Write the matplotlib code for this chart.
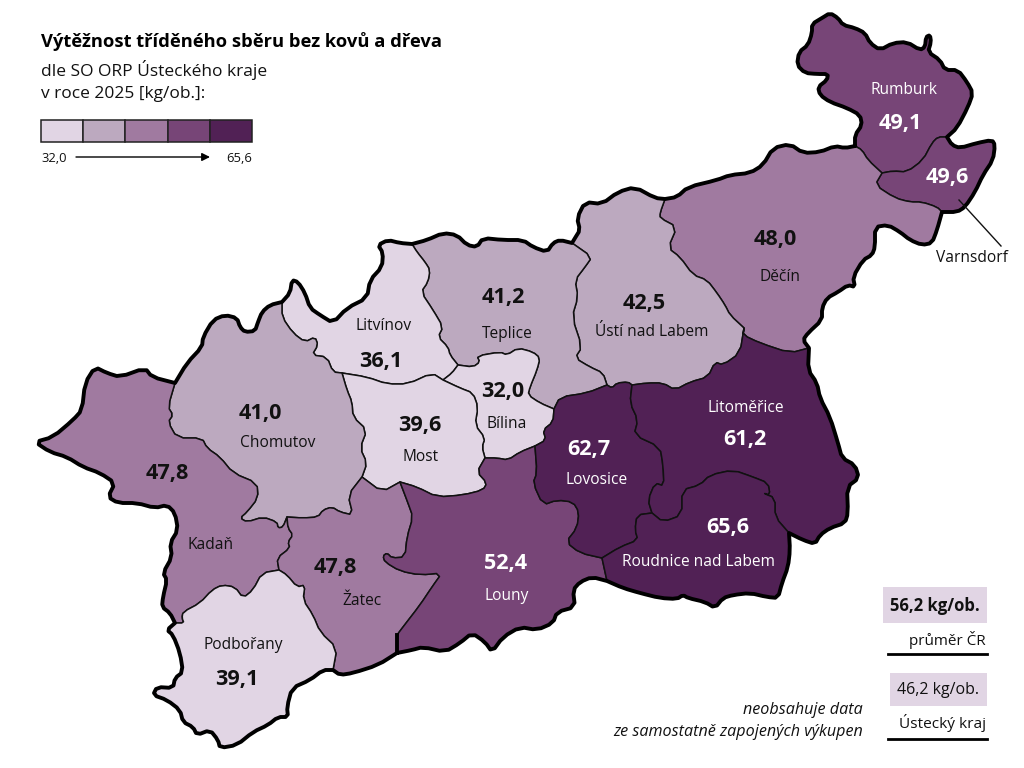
#!/usr/bin/env python
"""Vytreznost triddeneho sberu - map of the SO ORP regions, Ustecky kraj"""
import numpy as np
import matplotlib
matplotlib.use('Agg')
import matplotlib.pyplot as plt
from matplotlib.patches import Rectangle

plt.rcParams['font.family'] = ['Open Sans', 'DejaVu Sans']

# region values
names = ['Rumburk', 'Varnsdorf', 'Děčín', 'Ústí nad Labem', 'Teplice', 'Litvínov', 'Bílina', 'Most',
         'Chomutov', 'Kadaň', 'Žatec', 'Podbořany', 'Louny', 'Lovosice', 'Litoměřice', 'Roudnice nad Labem']
values = [49.1, 49.6, 48.0, 42.5, 41.2, 36.1, 32.0, 39.6, 41.0, 47.8, 47.8, 39.1, 52.4, 62.7, 61.2, 65.6]
class_breaks = [40, 45, 49, 55]
class_colors = ['#e1d5e4', '#bca9bf', '#a07aa0', '#774577', '#512155']
scale_min = 32.0
scale_max = 65.6
mean_cr = 56.2
mean_kraj = 46.2

# borders in pixels
# outer border pieces
out_rum = [(855, 146), (855, 135), (862, 125), (860, 115), (847, 108), (830, 102), (820, 95), (818, 87), (827, 80),
           (828, 74), (817, 74), (805, 73), (797, 65), (799, 52), (808, 45), (812, 33), (812, 24), (822, 18), (830, 13),
           (838, 18), (843, 25), (855, 28), (865, 33), (870, 43), (880, 50), (893, 43), (907, 42), (920, 50), (925, 47),
           (926, 37), (930, 35), (931, 42), (928, 52), (940, 60), (945, 70), (958, 70), (967, 82), (973, 93), (968, 107),
           (957, 128), (947, 137)]
out_var = [(947, 137), (952, 145), (960, 148), (977, 143), (992, 140), (995, 145), (993, 160), (983, 175), (975, 192),
           (965, 207), (957, 212), (942, 212)]
out_dec_s = [(942, 212), (937, 230), (932, 243), (922, 245), (910, 240), (900, 232), (888, 225), (875, 227), (875, 247),
             (872, 255), (863, 260), (853, 277), (855, 287), (848, 285), (838, 292), (827, 298), (822, 308), (822, 320),
             (808, 333), (803, 340), (809, 348)]
out_ltm = [(809, 348), (808, 370), (817, 383), (820, 398), (830, 417), (838, 443), (842, 458), (855, 465), (859, 478),
           (847, 487), (848, 513), (845, 523), (830, 528), (820, 535), (815, 544), (803, 540), (789, 533)]
out_rou = [(789, 533), (790, 550), (788, 567), (782, 583), (778, 598), (767, 597), (750, 593), (733, 595), (723, 598),
           (715, 608), (705, 602), (688, 598), (683, 595), (677, 599), (660, 598), (640, 593), (623, 588), (607, 581)]
out_lou = [(607, 581), (592, 577), (580, 582), (573, 590), (575, 607), (557, 612), (553, 623), (537, 630), (520, 627),
           (503, 637), (492, 652), (485, 642), (472, 633), (460, 643), (445, 652), (423, 647), (412, 650), (397, 653)]
out_zat = [(397, 653), (378, 665), (353, 673), (340, 675), (333, 670)]
out_pod = [(333, 670), (323, 670), (310, 680), (292, 688), (287, 707), (288, 717), (278, 717), (268, 725), (253, 732),
           (237, 745), (220, 748), (218, 740), (210, 730), (197, 735), (193, 727), (183, 722), (180, 710), (167, 700),
           (153, 695), (157, 687), (173, 688), (175, 678), (183, 672), (180, 653), (173, 635), (167, 630), (175, 623)]
out_kad = [(175, 623), (170, 613), (162, 607), (163, 597), (167, 580), (163, 573), (172, 557), (170, 543), (178, 530),
           (175, 513), (167, 505), (155, 508), (137, 503), (118, 503), (108, 497), (115, 483), (100, 473), (83, 467),
           (67, 457), (50, 452), (35, 442), (53, 437), (73, 420), (82, 410), (85, 383), (95, 367), (107, 373), (120, 377),
           (145, 368), (152, 377), (175, 383)]
out_cho = [(175, 383), (187, 363), (202, 347), (203, 337), (213, 320), (225, 315), (237, 318), (240, 327), (245, 332),
           (255, 331), (258, 322), (262, 312), (270, 305), (282, 302)]
out_ltv = [(282, 302), (290, 293), (292, 280), (298, 282), (305, 293), (310, 308), (320, 315), (333, 323), (347, 308),
           (367, 298), (370, 280), (382, 267), (383, 253), (378, 245), (388, 240), (400, 243), (412, 244)]
out_tep = [(412, 244), (427, 240), (443, 233), (457, 235), (467, 245), (477, 247), (483, 238), (503, 240), (523, 240),
           (533, 247), (547, 252), (553, 243), (560, 240), (572, 243)]
out_ust = [(572, 243), (575, 238), (580, 230), (577, 218), (585, 202), (602, 204), (618, 192), (635, 187), (655, 198),
           (665, 199)]
out_dec_n = [(665, 199), (677, 197), (688, 187), (717, 180), (730, 175), (750, 173), (763, 165), (773, 148), (790, 144),
             (803, 153), (820, 152), (835, 146), (845, 148), (855, 146)]

# inner border pieces
rum_dec = [(855, 146), (862, 150), (868, 160), (882, 173)]
rum_var = [(882, 173), (893, 171), (907, 172), (923, 160), (932, 143), (938, 137), (947, 137)]
var_dec = [(882, 173), (875, 185), (895, 198), (910, 202), (922, 202), (937, 207), (942, 212)]
ust_dec = [(665, 199), (660, 213), (660, 218), (677, 227), (668, 248), (680, 257), (693, 275), (707, 280), (717, 293),
           (725, 305), (730, 315), (744, 328)]
dec_ltm = [(744, 328), (743, 335), (760, 343), (790, 353), (809, 348)]
ust_ltm = [(744, 328), (740, 353), (723, 365), (715, 362), (708, 377), (690, 382), (675, 390), (663, 383), (647, 383),
           (632, 385)]
ust_lov = [(632, 385), (628, 382), (617, 383), (612, 388), (607, 385)]
tep_lov = [(607, 385), (587, 393), (560, 397), (554, 409)]
ust_tep = [(572, 243), (592, 257), (585, 267), (575, 280), (578, 297), (572, 317), (582, 347), (575, 358), (590, 367),
           (603, 373), (607, 385)]
tep_ltv = [(412, 244), (417, 252), (425, 262), (430, 270), (428, 282), (421, 292), (433, 310), (443, 327), (438, 337),
           (448, 347), (450, 355), (458, 365)]
ltv_bil = [(458, 365), (452, 373), (443, 380)]
tep_bil = [(458, 365), (473, 367), (480, 362), (477, 356), (500, 352), (507, 355), (518, 348), (533, 352), (540, 358),
           (537, 370), (530, 387), (528, 395), (540, 403), (554, 409)]
bil_lov = [(554, 409), (553, 422), (543, 430), (546, 440), (535, 446)]
bil_lou = [(535, 446), (520, 452), (508, 460), (497, 458), (485, 458)]
bil_mos = [(443, 380), (460, 388), (473, 393), (478, 407), (475, 425), (485, 438), (482, 447), (485, 458)]
ltv_mos = [(342, 373), (367, 377), (387, 384), (408, 384), (432, 373), (443, 380)]
cho_ltv = [(282, 302), (282, 317), (293, 333), (305, 342), (315, 337), (318, 345), (312, 355), (327, 357), (333, 372),
           (342, 373)]
cho_mos = [(342, 373), (347, 390), (352, 402), (353, 417), (367, 430), (360, 448), (367, 463), (362, 477)]
mos_zat = [(362, 477), (382, 492), (400, 482)]
mos_lou = [(400, 482), (417, 487), (437, 497), (463, 495), (483, 490), (487, 483), (477, 472), (485, 458)]
zat_lou = [(400, 482), (408, 503), (413, 517), (407, 537), (405, 557), (392, 558), (387, 553), (383, 556), (385, 562),
           (400, 571), (420, 575), (442, 573), (432, 587), (420, 605), (403, 627), (397, 635), (397, 653)]
cho_kad = [(175, 383), (168, 407), (173, 415), (168, 422), (177, 438), (202, 438), (207, 448), (220, 457), (233, 473),
           (257, 483), (258, 498), (247, 512), (240, 518), (247, 522), (263, 517), (277, 522), (278, 528), (283, 527),
           (287, 517)]
cho_zat = [(287, 517), (303, 518), (318, 517), (323, 510), (332, 507), (340, 512), (353, 515), (348, 495), (362, 477)]
kad_zat = [(287, 517), (288, 528), (293, 535), (288, 542), (290, 548), (277, 558), (279, 570)]
kad_pod = [(279, 570), (262, 573), (253, 590), (243, 598), (235, 587), (222, 585), (212, 590), (200, 603), (183, 612),
           (182, 618), (184, 623), (175, 623)]
zat_pod = [(279, 570), (287, 575), (297, 587), (305, 585), (303, 600), (313, 615), (320, 632), (337, 648), (333, 670)]
lov_ltm = [(632, 385), (630, 403), (638, 420), (634, 435), (660, 447), (663, 465), (664, 486), (655, 483), (648, 500),
           (652, 513)]
ltm_rou = [(652, 513), (663, 522), (682, 515), (682, 490), (700, 485), (710, 475), (733, 470), (753, 477), (768, 483),
           (770, 495), (763, 493), (775, 498), (775, 517), (789, 533)]
lov_rou = [(652, 513), (637, 515), (635, 530), (638, 540), (620, 547), (602, 558)]
rou_lou = [(602, 558), (607, 581)]
lov_lou = [(535, 446), (537, 473), (533, 483), (543, 505), (557, 500), (573, 502), (579, 512), (577, 528), (566, 542),
           (580, 553), (602, 558)]


def round_corners(arc):
    """cut the corners of a traced border, end points stay put"""
    out = [arc[0]]
    for (x0, y0), (x1, y1) in zip(arc[:-1], arc[1:]):
        out.append((0.75 * x0 + 0.25 * x1, 0.75 * y0 + 0.25 * y1))
        out.append((0.25 * x0 + 0.75 * x1, 0.25 * y0 + 0.75 * y1))
    out.append(arc[-1])
    return out


(out_rum, out_var, out_dec_s, out_ltm, out_rou, out_lou, out_zat, out_pod, out_kad, out_cho, out_ltv, out_tep, out_ust,
 out_dec_n, rum_dec, rum_var, var_dec, ust_dec, dec_ltm, ust_ltm, ust_lov, tep_lov, ust_tep, tep_ltv, ltv_bil, tep_bil,
 bil_lov, bil_lou, bil_mos, ltv_mos, cho_ltv, cho_mos, mos_zat, mos_lou, zat_lou, cho_kad, cho_zat, kad_zat, kad_pod,
 zat_pod, lov_ltm, ltm_rou, lov_rou, rou_lou, lov_lou) = [round_corners(a) for a in (
    out_rum, out_var, out_dec_s, out_ltm, out_rou, out_lou, out_zat, out_pod, out_kad, out_cho, out_ltv, out_tep, out_ust,
    out_dec_n, rum_dec, rum_var, var_dec, ust_dec, dec_ltm, ust_ltm, ust_lov, tep_lov, ust_tep, tep_ltv, ltv_bil, tep_bil,
    bil_lov, bil_lou, bil_mos, ltv_mos, cho_ltv, cho_mos, mos_zat, mos_lou, zat_lou, cho_kad, cho_zat, kad_zat, kad_pod,
    zat_pod, lov_ltm, ltm_rou, lov_rou, rou_lou, lov_lou)]

r = lambda arc: arc[::-1]

rings = {
    'Rumburk': out_rum + r(rum_var) + r(rum_dec),
    'Varnsdorf': out_var + r(var_dec) + rum_var,
    'Děčín': out_dec_n + rum_dec + var_dec + out_dec_s + r(dec_ltm) + r(ust_dec),
    'Ústí nad Labem': out_ust + ust_dec + ust_ltm + ust_lov + r(ust_tep),
    'Teplice': out_tep + ust_tep + tep_lov + r(tep_bil) + r(tep_ltv),
    'Litvínov': out_ltv + tep_ltv + ltv_bil + r(ltv_mos) + r(cho_ltv),
    'Bílina': tep_bil + bil_lov + bil_lou + r(bil_mos) + r(ltv_bil),
    'Most': ltv_mos + bil_mos + r(mos_lou) + r(mos_zat) + r(cho_mos),
    'Chomutov': out_cho + cho_ltv + cho_mos + r(cho_zat) + r(cho_kad),
    'Kadaň': out_kad + cho_kad + kad_zat + kad_pod,
    'Žatec': zat_lou + out_zat + r(zat_pod) + r(kad_zat) + cho_zat + mos_zat,
    'Podbořany': zat_pod + out_pod + r(kad_pod),
    'Louny': rou_lou + out_lou + r(zat_lou) + mos_lou + r(bil_lou) + lov_lou,
    'Lovosice': r(ust_lov) + lov_ltm + lov_rou + r(lov_lou) + r(bil_lov) + r(tep_lov),
    'Litoměřice': out_ltm + r(ltm_rou) + r(lov_ltm) + r(ust_ltm) + dec_ltm,
    'Roudnice nad Labem': ltm_rou + out_rou + r(rou_lou) + r(lov_rou),
}
outer = (out_rum + out_var + out_dec_s + out_ltm + out_rou + out_lou + out_zat + out_pod + out_kad + out_cho + out_ltv
         + out_tep + out_ust + out_dec_n)

# label anchors: name, then value
name_pos = [(904, 89), (972, 257), (780, 276), (652, 331), (507, 333), (384, 325), (507, 423), (421, 456),
            (278, 442), (211, 544), (362, 600), (243, 644), (507, 595), (597, 479), (746, 407), (698, 561)]
value_pos = [(900, 123), (947, 177), (775, 239), (644, 303), (503, 298), (381, 361), (503, 392), (420, 425),
             (260, 414), (167, 473), (335, 567), (237, 679), (506, 563), (589, 450), (745, 439), (728, 528)]

fig = plt.figure(figsize=(10.24, 7.68), dpi=100)
ax = fig.add_axes([0, 0, 1, 1])
ax.set_xlim(0, 1024)
ax.set_ylim(768, 0)
ax.axis('off')

classes = np.digitize(values, class_breaks)
for name, val, cls, npos, vpos in zip(names, values, classes, name_pos, value_pos):
    xy = np.array(rings[name])
    ax.fill(xy[:, 0], xy[:, 1], facecolor=class_colors[cls], edgecolor='#111111', linewidth=1.1, joinstyle='round')
    col = 'white' if cls >= 3 else '#111111'
    # Varnsdorf sits outside its polygon, the label stays black
    ncol = '#111111' if name == 'Varnsdorf' else col
    ax.text(npos[0], npos[1] + 1, name, color=ncol, fontsize=11.2, ha='center', va='center')
    ax.text(vpos[0], vpos[1], f'{val:.1f}'.replace('.', ','), color=col, fontsize=15.6, fontweight='bold',
            ha='center', va='center')

xy = np.array(outer)
ax.plot(xy[:, 0], xy[:, 1], color='black', linewidth=2.8, solid_joinstyle='round', solid_capstyle='round')
ax.plot([397, 397], [635, 653], color='black', linewidth=2.8)

# leader for Varnsdorf
ax.plot([959, 1001], [200, 246], color='#111111', linewidth=1.0)

# title
ax.text(41, 42, 'Výtěžnost tříděného sběru bez kovů a dřeva', fontsize=13.2, fontweight='bold', va='center', color='black')
ax.text(41, 70, 'dle SO ORP Ústeckého kraje', fontsize=12.5, va='center', color='#111111')
ax.text(41, 94, 'v roce 2025 [kg/ob.]:', fontsize=12.5, va='center', color='#111111')

# legend scale
for i, c in enumerate(class_colors):
    ax.add_patch(Rectangle((41 + i * 42.2, 120), 42.2, 22, facecolor=c, edgecolor='#222222', linewidth=1.1))
ax.text(41, 158, f'{scale_min:.1f}'.replace('.', ','), fontsize=9.4, va='center', color='#111111')
ax.text(252, 158, f'{scale_max:.1f}'.replace('.', ','), fontsize=9.4, va='center', ha='right', color='#111111')
ax.annotate('', xy=(210, 157), xytext=(76, 157),
            arrowprops=dict(arrowstyle='-|>', color='black', lw=1.0, mutation_scale=12, shrinkA=0, shrinkB=0))

# means, bottom right
ax.add_patch(Rectangle((883, 587), 104, 36, facecolor=class_colors[0], edgecolor='none'))
ax.text(935, 606, f'{mean_cr:.1f} kg/ob.'.replace('.', ',', 1), fontsize=12, fontweight='bold', ha='center', va='center', color='#111111')
ax.text(986, 640, 'průměr ČR', fontsize=11, ha='right', va='center', color='#111111')
ax.plot([888, 987], [653.5, 653.5], color='black', linewidth=2)

ax.add_patch(Rectangle((890, 673), 97, 33, facecolor=class_colors[0], edgecolor='none'))
ax.text(938, 690, f'{mean_kraj:.1f} kg/ob.'.replace('.', ',', 1), fontsize=11.5, ha='center', va='center', color='#111111')
ax.text(986, 723, 'Ústecký kraj', fontsize=11.1, ha='right', va='center', color='#111111')
ax.plot([888, 987], [738.5, 738.5], color='black', linewidth=2)

ax.text(863, 710, 'neobsahuje data', fontsize=11.6, style='italic', ha='right', va='center', color='#111111')
ax.text(863, 732, 'ze samostatně zapojených výkupen', fontsize=11.6, style='italic', ha='right', va='center', color='#111111')

fig.savefig('out.png', dpi=100)
